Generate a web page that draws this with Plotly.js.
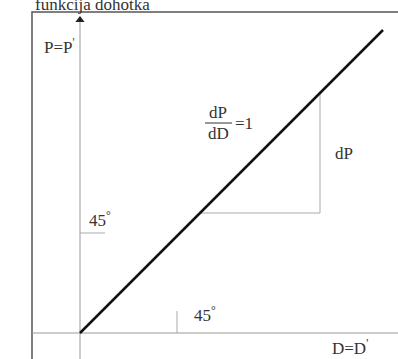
<!DOCTYPE html>
<html>
<head>
<meta charset="utf-8">
<script src="https://cdn.plot.ly/plotly-3.0.1.min.js"></script>
<style>
  html, body { margin: 0; padding: 0; background: #fff; }
  #chart { width: 398px; height: 359px; }
</style>
</head>
<body>
<div id="chart"></div>
<script>
// 45 degree line, D=D' on x, P=P' on y, origin at 0
var lineX = [0, 303];
var lineY = [0, 303];

// slope triangle dP / dD
var triX = [120, 240, 240];
var triY = [120, 120, 240];

// axis extents
var xAxisX = [-48, 318];
var yAxisY = [-26, 316];

// frame of the figure (left and top edges)
var frameX = [-48, -48, 318];
var frameY = [-26, 321, 321];

// angle ticks
var tickUpX = [0, 25];
var tickUpY = [100, 100];
var tickLowX = [97, 97];
var tickLowY = [0, 22];

var serif = 'Liberation Serif';
var txtFont = { family: serif, size: 17, color: '#333' };

var traces = [
  { x: frameX, y: frameY, mode: 'lines', line: { color: '#555', width: 1.5 } },
  { x: xAxisX, y: [0, 0], mode: 'lines', line: { color: '#999', width: 1 } },
  { x: [0, 0], y: yAxisY, mode: 'lines', line: { color: '#999', width: 1 } },
  { x: [0], y: [yAxisY[1] - 3], mode: 'markers',
    marker: { symbol: 'triangle-up', size: 8, color: '#222' } },
  { x: tickUpX, y: tickUpY, mode: 'lines', line: { color: '#aaa', width: 1 } },
  { x: tickLowX, y: tickLowY, mode: 'lines', line: { color: '#aaa', width: 1 } },
  { x: triX, y: triY, mode: 'lines', line: { color: '#aaa', width: 1 } },
  { x: [125, 152], y: [210, 210], mode: 'lines', line: { color: '#333', width: 1 } },
  { x: lineX, y: lineY, mode: 'lines', line: { color: '#111', width: 2.5 } }
];

function note(x, y, text, xanchor) {
  return { x: x, y: y, text: text, showarrow: false, font: txtFont,
           xanchor: xanchor || 'center', yanchor: 'middle' };
}

var layout = {
  width: 398,
  height: 359,
  margin: { l: 0, r: 0, t: 0, b: 0 },
  paper_bgcolor: '#fff',
  plot_bgcolor: '#fff',
  showlegend: false,
  xaxis: { range: [-80, 318], visible: false, fixedrange: true },
  yaxis: { range: [-26, 333], visible: false, fixedrange: true },
  annotations: [
    { x: -47, y: 329, text: 'funkcija dohotka', showarrow: false, xanchor: 'left', yanchor: 'middle',
      font: { family: serif, size: 17, color: '#333' } },
    note(-21, 287, 'P=P<sup>\'</sup>'),
    note(138, 221, 'dP'),
    note(138, 200, 'dD'),
    note(153, 210, '=1', 'left'),
    note(264, 180, 'dP'),
    note(20, 114, '45<sup>°</sup>'),
    note(125, 19, '45<sup>°</sup>'),
    note(270, -14, 'D=D<sup>\'</sup>')
  ]
};

Plotly.newPlot('chart', traces, layout, { staticPlot: true });
</script>
</body>
</html>
